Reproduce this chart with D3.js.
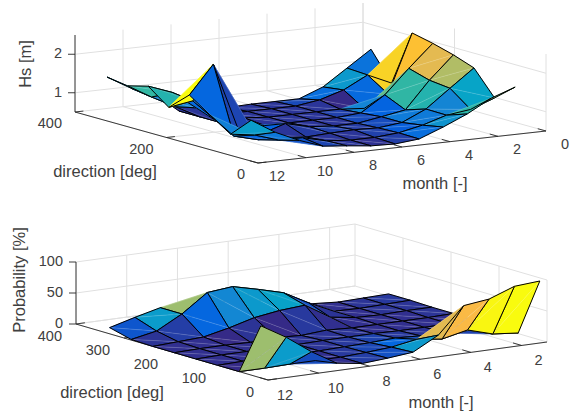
<!DOCTYPE html>
<html>
<head>
<meta charset="utf-8">
<script src="https://cdn.jsdelivr.net/npm/d3@7"></script>
<style>
  html, body { margin: 0; padding: 0; background: #fff; }
  svg { display: block; }
  text { font-family: "Liberation Sans", Arial, sans-serif; fill: #404040; }
</style>
</head>
<body>
<svg id="chart" width="573" height="415"></svg>
<script>
const months = [1, 2, 3, 4, 5, 6, 7, 8, 9, 10, 11, 12];
const directions = [15, 60, 105, 150, 195, 240, 285, 330];

// rows = months, columns = directions
const hsValues = [
  [1.66, 1.23, 1.86, 2.05, 2.20, 2.32, 0.87, 1.60],
  [1.44, 1.00, 1.40, 1.46, 1.62, 0.80, 1.15, 1.18],
  [1.10, 0.92, 0.93, 0.76, 1.00, 0.50, 0.83, 0.76],
  [0.83, 0.73, 0.65, 0.65, 0.60, 0.55, 0.64, 0.52],
  [0.59, 0.60, 0.58, 0.55, 0.55, 0.55, 0.55, 0.52],
  [0.53, 0.55, 0.60, 0.55, 0.55, 0.55, 0.55, 0.52],
  [0.55, 0.55, 0.58, 0.60, 0.55, 0.55, 0.55, 0.50],
  [0.62, 0.60, 0.55, 0.75, 0.55, 0.60, 0.55, 0.55],
  [0.68, 0.75, 0.60, 0.55, 0.60, 0.55, 0.55, 0.55],
  [0.90, 0.76, 0.62, 0.80, 0.80, 1.00, 0.88, 1.05],
  [1.18, 0.96, 0.78, 2.50, 1.40, 1.47, 1.20, 1.28],
  [1.56, 1.05, 1.40, 1.77, 1.30, 1.70, 1.56, 1.64]
];
const probValues = [
  [95,  1,  1,  1,  2,  2,  3,  3],
  [92,  5,  1,  1,  1,  2,  2,  2],
  [77, 17,  2,  1,  1,  1,  1,  1],
  [72,  8,  3,  1,  1,  2,  2,  4],
  [30, 13,  5,  2,  1,  8, 21, 10],
  [ 8,  6,  3,  2,  3, 33, 43, 20],
  [ 4,  3,  2,  2,  0, 30, 54, 25],
  [ 1,  1,  1,  1,  2, 24, 64, 28],
  [ 7,  1,  1,  1,  0, 13, 60,  5],
  [31,  1,  1,  1,  1,  4, 31, 31],
  [60,  0,  1,  1,  1,  2,  9, 21],
  [84,  0,  0,  0,  0,  0,  1, 10]
];

const hsTicks = [1, 2];
const probTicks = [0, 50, 100];
const hsMonthTicks = [0, 2, 4, 6, 8, 10, 12];
const probMonthTicks = [2, 4, 6, 8, 10, 12];
const hsDirTicks = [0, 200, 400];
const probDirTicks = [0, 100, 200, 300, 400];

const parula = d3.scaleLinear()
  .domain([0, 0.125, 0.25, 0.375, 0.5, 0.625, 0.75, 0.83, 0.85, 0.91, 1])
  .range(["#352a87", "#0363e1", "#1485d4", "#06a7c6", "#38b99e", "#92bf73", "#d9ba56", "#fbba45", "#fdc033", "#f8d326", "#f9fb0e"])
  .clamp(true);

const svg = d3.select("#chart");

function drawPanel(p) {
  const g = svg.append("g");

  // screen offsets per data axis, oblique projection
  const monthX = d3.scaleLinear().domain(p.monthDomain).range([p.right[0], p.front[0]]);
  const monthY = d3.scaleLinear().domain(p.monthDomain).range([p.right[1], p.front[1]]);
  const dirX = d3.scaleLinear().domain([0, 400]).range([0, p.back[0] - p.right[0]]);
  const dirY = d3.scaleLinear().domain([0, 400]).range([0, p.back[1] - p.right[1]]);
  const zY = d3.scaleLinear().domain(p.zDomain).range([0, -p.zHeight]);

  const pos = (m, d, z) => [monthX(m) + dirX(d), monthY(m) + dirY(d) + zY(z)];
  const zMin = p.zDomain[0], zMax = p.zDomain[1];
  const mLow = p.monthDomain[0], mHigh = p.monthDomain[1];
  const line = (a, b, colour, w) => g.append("line")
    .attr("x1", a[0]).attr("y1", a[1]).attr("x2", b[0]).attr("y2", b[1])
    .attr("stroke", colour).attr("stroke-width", w);

  const gridColour = "#e0e0e0";
  p.monthTicks.forEach(m => {
    line(pos(m, 0, zMin), pos(m, 400, zMin), gridColour, 1);
    line(pos(m, 400, zMin), pos(m, 400, zMax), gridColour, 1);
  });
  p.dirTicks.forEach(d => {
    line(pos(mLow, d, zMin), pos(mHigh, d, zMin), gridColour, 1);
    line(pos(mLow, d, zMin), pos(mLow, d, zMax), gridColour, 1);
  });
  p.zTicks.forEach(z => {
    line(pos(mHigh, 400, z), pos(mLow, 400, z), gridColour, 1);
    line(pos(mLow, 400, z), pos(mLow, 0, z), gridColour, 1);
  });

  // axes
  const axisColour = "#262626";
  line(pos(mHigh, 400, zMin), pos(mHigh, 400, zMax), axisColour, 0.9);
  line(pos(mHigh, 400, zMin), pos(mHigh, 0, zMin), axisColour, 0.9);
  line(pos(mHigh, 0, zMin), pos(mLow, 0, zMin), axisColour, 0.9);

  p.zTicks.forEach(z => {
    const a = pos(mHigh, 400, z);
    line(a, [a[0] - 7, a[1]], axisColour, 0.9);
    g.append("text").attr("x", a[0] - 13).attr("y", a[1] + 4)
      .attr("text-anchor", "end").attr("font-size", p.tickSize).text(z);
  });
  p.dirTicks.forEach(d => {
    const a = pos(mHigh, d, zMin);
    const b = pos(mHigh - p.tickMonths, d, zMin);
    line(a, b, axisColour, 0.9);
    g.append("text").attr("x", a[0] + p.dirLabel[0]).attr("y", a[1] + p.dirLabel[1])
      .attr("text-anchor", "end").attr("font-size", p.tickSize).text(d);
  });
  p.monthTicks.forEach(m => {
    const a = pos(m, 0, zMin);
    const b = pos(m, p.tickDirs, zMin);
    line(a, b, axisColour, 0.9);
    g.append("text").attr("x", a[0] + p.monthLabel[0]).attr("y", a[1] + p.monthLabel[1])
      .attr("text-anchor", "middle").attr("font-size", p.tickSize).text(m);
  });

  // surface cells, far ones first
  const colour = d3.scaleLinear().domain(p.colourDomain).range([0, 1]);
  const cells = [];
  for (let i = 0; i < months.length - 1; i++) {
    for (let j = 0; j < directions.length - 1; j++) {
      cells.push({i, j, depth: pos(months[i] + 0.5, directions[j] + 22.5, zMin)[1]});
    }
  }
  cells.sort((a, b) => d3.ascending(a.depth, b.depth));

  const pathLine = d3.line();
  cells.forEach(c => {
    const m0 = months[c.i], m1 = months[c.i + 1];
    const d0 = directions[c.j], d1 = directions[c.j + 1];
    const first = pos(m0, d0, p.values[c.i][c.j]);
    const second = pos(m1, d0, p.values[c.i + 1][c.j]);
    const third = pos(m1, d1, p.values[c.i + 1][c.j + 1]);
    const fourth = pos(m0, d1, p.values[c.i][c.j + 1]);
    const fill = parula(colour(p.values[c.i][c.j]));

    // every quad is two triangles split on the same diagonal, so a bent quad
    // fills past its mesh lines
    [[first, second, third], [first, third, fourth]].forEach(tri => {
      g.append("path")
        .attr("d", pathLine(tri) + "Z")
        .attr("fill", fill).attr("stroke", fill).attr("stroke-width", 0.4);
    });
    line(first, third, "#fff", 0.7).attr("stroke-opacity", 0.25);

    g.append("path")
      .attr("d", pathLine([first, second, third, fourth]) + "Z")
      .attr("fill", "none").attr("stroke", "#000").attr("stroke-width", 1);
  });

  // axis titles
  g.append("text").attr("transform", `translate(${p.zTitle[0]},${p.zTitle[1]}) rotate(-90)`)
    .attr("text-anchor", "middle").attr("font-size", p.titleSize).text(p.zName);
  g.append("text").attr("x", p.dirTitle[0]).attr("y", p.dirTitle[1])
    .attr("text-anchor", "middle").attr("font-size", p.titleSize).text("direction [deg]");
  g.append("text").attr("x", p.monthTitle[0]).attr("y", p.monthTitle[1])
    .attr("text-anchor", "middle").attr("font-size", p.titleSize).text("month [-]");
}

drawPanel({
  values: hsValues,
  monthDomain: [0, 12], zDomain: [0.5, 2.5], colourDomain: [0.5, 2.5],
  zTicks: hsTicks, monthTicks: hsMonthTicks, dirTicks: hsDirTicks,
  right: [546, 131], front: [258, 163], back: [363, 80], zHeight: 77,
  tickMonths: 0.35, tickDirs: 18,
  dirLabel: [-13, 16], monthLabel: [19, 18], tickSize: 14.5, titleSize: 16.5,
  zName: "Hs [m]", zTitle: [31, 64], dirTitle: [105, 177], monthTitle: [435, 189]
});

drawPanel({
  values: probValues,
  monthDomain: [1, 12], zDomain: [0, 100], colourDomain: [0, 93],
  zTicks: probTicks, monthTicks: probMonthTicks, dirTicks: probDirTicks,
  right: [547, 342], front: [268, 380], back: [355, 286], zHeight: 62,
  tickMonths: 0.35, tickDirs: 18,
  dirLabel: [-14, 17], monthLabel: [17, 20], tickSize: 14.5, titleSize: 16.5,
  zName: "Probability [%]", zTitle: [25, 280], dirTitle: [112, 398], monthTitle: [441, 408]
});
</script>
</body>
</html>
